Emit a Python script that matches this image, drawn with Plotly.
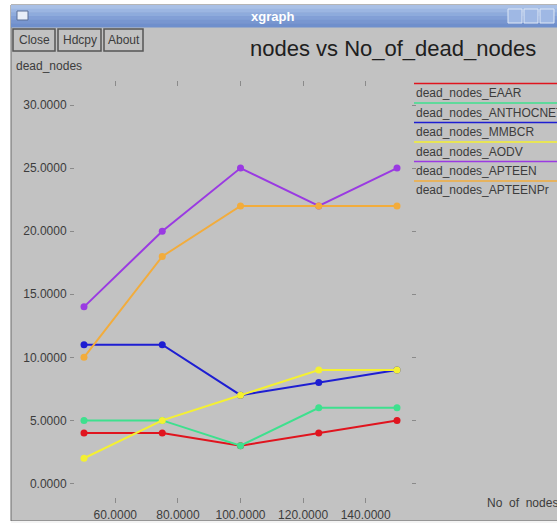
import plotly.graph_objects as go

nodes = [50, 75, 100, 125, 150]
series_names = ["dead_nodes_EAAR", "dead_nodes_ANTHOCNET", "dead_nodes_MMBCR",
                "dead_nodes_AODV", "dead_nodes_APTEEN", "dead_nodes_APTEENPr"]
eaar = [4, 4, 3, 4, 5]
anthocnet = [5, 5, 3, 6, 6]
mmbcr = [11, 11, 7, 8, 9]
aodv = [2, 5, 7, 9, 9]
apteen = [14, 20, 25, 22, 25]
apteenpr = [10, 18, 22, 22, 22]
series_values = [eaar, anthocnet, mmbcr, aodv, apteen, apteenpr]
colors = ["#e0141e", "#3ee08e", "#1e1ed2", "#f4f032", "#9a3ae2", "#f2ac3c"]
x_ticks = [60, 80, 100, 120, 140]
y_ticks = [0, 5, 10, 15, 20, 25, 30]

W, H = 557, 524
BG = "#c2c2c2"
TXT = "#3c3c3c"
FONT = "Liberation Sans"

def px(x):
    return x / W

def py(y):
    return 1 - y / H

fig = go.Figure()
for name, vals, col in zip(series_names, series_values, colors):
    fig.add_trace(go.Scatter(
        x=nodes, y=vals, name=name, mode="lines+markers",
        line=dict(color=col, width=2),
        marker=dict(color=col, size=7),
        showlegend=False,
    ))

shapes = []
annotations = []

# window background
shapes.append(dict(type="rect", xref="paper", yref="paper", layer="below",
                   x0=px(11), x1=px(W + 5), y0=py(521), y1=py(5),
                   fillcolor=BG, line=dict(color="#6a6a6a", width=1)))
# title bar (approximate gradient with stripes)
bar_cols = ["#a9c0e6", "#9cb6e2", "#8eabdc", "#829fd6", "#7896d0", "#6f8fcc"]
top = 5
step = 22 / len(bar_cols)
for i, c in enumerate(bar_cols):
    shapes.append(dict(type="rect", xref="paper", yref="paper", layer="below",
                       x0=px(11), x1=px(W + 5), y0=py(top + (i + 1) * step + 0.5),
                       y1=py(top + i * step), fillcolor=c, line=dict(width=0)))
# window icon
shapes.append(dict(type="rect", xref="paper", yref="paper",
                   x0=px(17), x1=px(28), y0=py(20), y1=py(11),
                   fillcolor="#e8eef8", line=dict(color="#5a6f95", width=1)))
# title-bar buttons on the right
for bx in [508, 524, 540]:
    shapes.append(dict(type="rect", xref="paper", yref="paper",
                       x0=px(bx), x1=px(bx + 14), y0=py(23), y1=py(9),
                       fillcolor="#9fb8e4", line=dict(color="#dfe8f6", width=1)))
annotations.append(dict(text="<b>xgraph</b>", x=px(272), y=py(16), xref="paper", yref="paper",
                        showarrow=False, font=dict(family=FONT, size=13, color="white"),
                        xanchor="center", yanchor="middle"))

# Close / Hdcpy / About buttons
for label, x0, x1 in [("Close", 13, 55), ("Hdcpy", 58, 101), ("About", 104, 143)]:
    shapes.append(dict(type="rect", xref="paper", yref="paper",
                       x0=px(x0), x1=px(x1), y0=py(51), y1=py(29),
                       fillcolor=BG, line=dict(color="#555555", width=1.5)))
    annotations.append(dict(text=label, x=px((x0 + x1) / 2), y=py(40), xref="paper", yref="paper",
                            showarrow=False, font=dict(family=FONT, size=12, color=TXT),
                            xanchor="center", yanchor="middle"))

# chart title
annotations.append(dict(text="nodes vs No_of_dead_nodes", x=px(248), y=py(48),
                        xref="paper", yref="paper", showarrow=False,
                        font=dict(family=FONT, size=22, color="#202020"),
                        xanchor="left", yanchor="middle"))
# axis titles
annotations.append(dict(text="dead_nodes", x=px(14), y=py(66), xref="paper", yref="paper",
                        showarrow=False, font=dict(family=FONT, size=12, color=TXT),
                        xanchor="left", yanchor="middle"))
annotations.append(dict(text="No  of  nodes", x=px(485), y=py(503), xref="paper", yref="paper",
                        showarrow=False, font=dict(family=FONT, size=12, color=TXT),
                        xanchor="left", yanchor="middle"))

# legend (xgraph style: coloured line above each label)
for i, (name, col) in enumerate(zip(series_names, colors)):
    ty = 93 + i * 19.5
    ly = ty - 9.5
    shapes.append(dict(type="line", xref="paper", yref="paper",
                       x0=px(414), x1=px(W + 5), y0=py(ly), y1=py(ly),
                       line=dict(color=col, width=1.5)))
    annotations.append(dict(text=name, x=px(414), y=py(ty), xref="paper", yref="paper",
                            showarrow=False, font=dict(family=FONT, size=12, color=TXT),
                            xanchor="left", yanchor="middle"))

# bottom white strip
shapes.append(dict(type="line", xref="paper", yref="paper", x0=px(11), x1=px(W + 5),
                   y0=py(522), y1=py(522), line=dict(color="#f4f4f4", width=2)))

x_lo, x_hi = 75, 411
y_top, y_bot = 87, 497
# data -> pixel calibration
xr = [50 - (84 - x_lo) / 3.13, 150 + (x_hi - 397) / 3.13]
yr = [-(y_bot - 483.5) / 12.617, 30 + (105 - y_top) / 12.617]

fig.update_layout(
    width=W, height=H,
    margin=dict(l=0, r=0, t=0, b=0),
    paper_bgcolor="white",
    plot_bgcolor="rgba(0,0,0,0)",
    shapes=shapes,
    annotations=annotations,
    xaxis=dict(domain=[px(x_lo), px(x_hi)], range=xr, tickvals=x_ticks,
               tickformat=".4f", showgrid=False, zeroline=False, showline=False,
               ticks="outside", ticklen=5, tickcolor="#8a8a8a", mirror="ticks",
               tickfont=dict(family=FONT, size=12, color=TXT), ticklabelstandoff=2),
    yaxis=dict(domain=[py(y_bot), py(y_top)], range=yr, tickvals=y_ticks,
               tickformat=".4f", showgrid=False, zeroline=False, showline=False,
               ticks="outside", ticklen=4, tickcolor="#8a8a8a", mirror="ticks",
               tickfont=dict(family=FONT, size=12, color=TXT), ticklabelstandoff=1),
    font=dict(family=FONT),
)

fig.write_html(
    "out.html",
    config={"displayModeBar": False},
    post_script="document.body.style.margin='0';document.body.style.overflow='hidden';",
)
